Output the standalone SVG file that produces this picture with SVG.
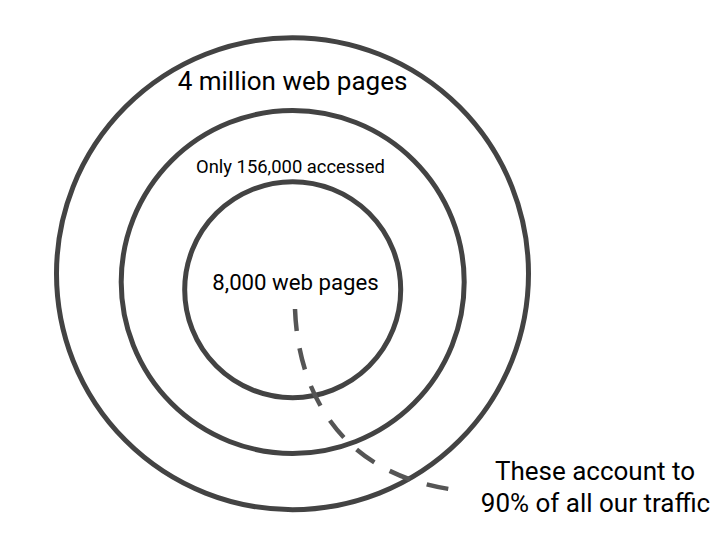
<svg xmlns="http://www.w3.org/2000/svg" width="725" height="543" viewBox="0 0 725 543">
<style>
.ring{fill:none;stroke:#434343;stroke-width:5}
.t{font-family:Roboto,"Liberation Sans",sans-serif;fill:#000;text-anchor:middle}
.conn{fill:none;stroke:#555;stroke-width:4.5;stroke-dasharray:22 17.5}
</style>
<rect width="725" height="543" fill="#fff"/>
<g id="outer">
<circle class="ring" cx="292.5" cy="273.7" r="236"/>
<text class="t" x="292.5" y="90" font-size="26">4 million web pages</text>
</g>
<g id="middle">
<circle class="ring" cx="292.7" cy="282" r="171.5"/>
<text class="t" x="290.5" y="173" font-size="18.4">Only 156,000 accessed</text>
</g>
<g id="inner">
<circle class="ring" cx="292.7" cy="289.7" r="108"/>
<text class="t" x="295.5" y="290" font-size="22.2">8,000 web pages</text>
</g>
<g id="connectors">
<path class="conn" d="M295 309 C298 392 340 472 449 489"/>
</g>
<g id="note">
<text class="t" x="595" y="480" font-size="26">These account to</text>
<text class="t" x="595.5" y="512" font-size="26">90% of all our traffic</text>
</g>
</svg>
